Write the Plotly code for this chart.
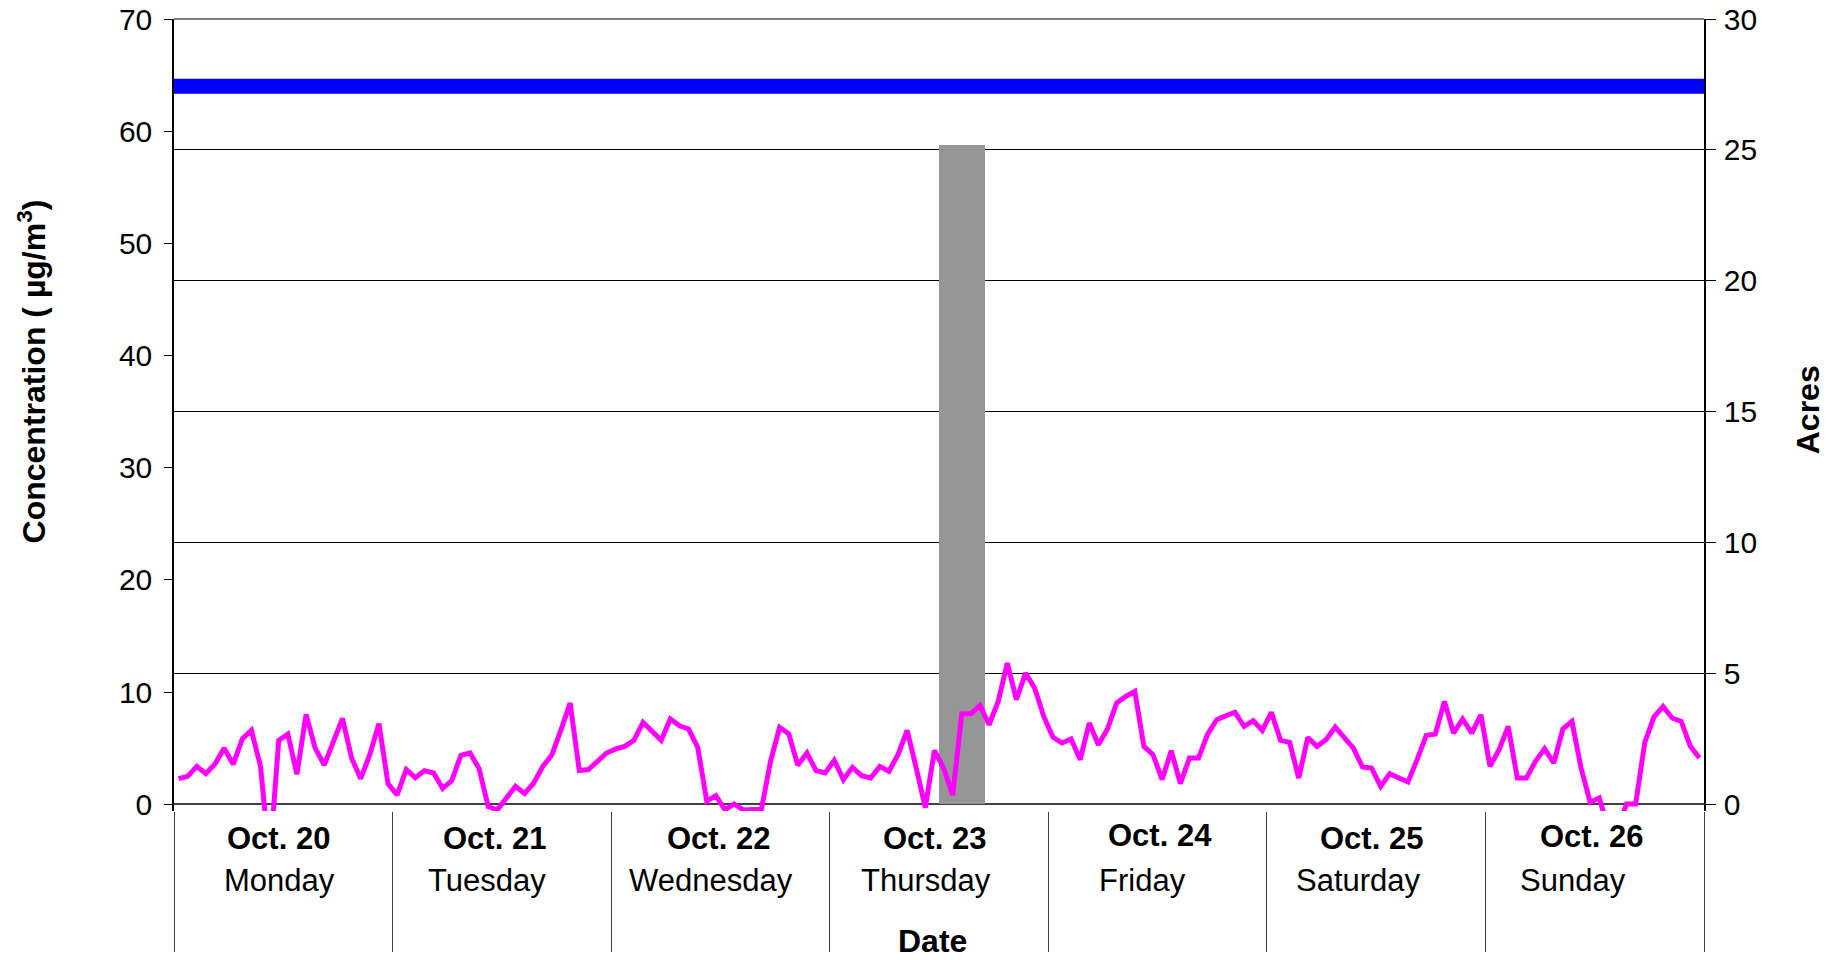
import plotly.graph_objects as go

# ---------------- data ----------------
dates = ["Oct. 20", "Oct. 21", "Oct. 22", "Oct. 23", "Oct. 24", "Oct. 25", "Oct. 26"]
weekdays = ["Monday", "Tuesday", "Wednesday", "Thursday", "Friday", "Saturday", "Sunday"]

# hourly PM concentration (µg/m3), one list per day
conc_oct20 = [2.28, 2.49, 3.38, 2.73, 3.59, 4.99, 3.56, 5.82, 6.59, 3.38, -5.0, 5.70,
              6.26, 2.67, 8.01, 5.01, 3.50, 5.58, 7.66, 4.12, 2.28, 4.42, 7.18, 1.84]
conc_oct21 = [0.83, 3.09, 2.37, 3.00, 2.79, 1.42, 2.11, 4.36, 4.57, 3.18, -0.2, -0.5,
              0.50, 1.60, 0.95, 1.90, 3.38, 4.42, 6.65, 9.02, 3.00, 3.09, 3.83, 4.57]
conc_oct22 = [4.93, 5.16, 5.70, 7.30, 6.50, 5.70, 7.60, 7.00, 6.71, 5.10, 0.27, 0.77,
              -0.5, 0.03, -0.5, -0.5, -0.45, 3.83, 6.85, 6.29, 3.47, 4.57, 3.00, 2.79]
conc_oct23 = [3.92, 2.20, 3.29, 2.55, 2.34, 3.38, 2.94, 4.42, 6.59, 3.23, -0.3, 4.81,
              3.23, 0.80, 8.07, 8.07, 8.81, 7.09, 9.17, 12.58, 9.32, 11.69, 10.36, 7.83]
conc_oct24 = [5.99, 5.46, 5.82, 3.98, 7.24, 5.31, 6.71, 9.02, 9.61, 10.06, 5.16, 4.42,
              2.20, 4.78, 1.84, 4.12, 4.12, 6.26, 7.54, 7.89, 8.19, 6.94, 7.45, 6.59]
conc_oct25 = [8.19, 5.70, 5.52, 2.34, 5.96, 5.16, 5.76, 6.88, 5.91, 5.01, 3.32, 3.23,
              1.60, 2.73, 2.34, 1.99, 3.98, 6.14, 6.26, 9.17, 6.35, 7.60, 6.35, 7.98]
conc_oct26 = [3.38, 4.87, 6.94, 2.34, 2.34, 3.83, 4.96, 3.68, 6.71, 7.39, 3.23, 0.18,
              0.56, -2.2, -2.2, 0.03, 0.03, 5.52, 7.77, 8.72, 7.69, 7.39, 5.16, 4.12]

standard_level = 64          # µg/m3 reference level
fire_hour = [86.5]           # hour (from Oct. 20 00:00) of the burn
fire_acres = [25.2]          # acres burned

conc_ticks = [0, 10, 20, 30, 40, 50, 60, 70]
acre_ticks = [0, 5, 10, 15, 20, 25, 30]

# ---------------- styling (label nudges, px) ----------------
date_dx = [-5, -7, -2, -5, 2, -5, -3]
date_dy = [-27.5, -27.5, -27, -27.2, -24.7, -27.6, -25.3]
wday_dx = [-4, -15, -9.6, -13.2, -14.7, -18, -21.5]
WDAY_DY = -69.6

# ---------------- build ----------------
conc = conc_oct20 + conc_oct21 + conc_oct22 + conc_oct23 + conc_oct24 + conc_oct25 + conc_oct26
hours_per_day = 24
n_hours = hours_per_day * len(dates)
x_hours = [h + 0.5 for h in range(len(conc))]
day_bounds = [d * hours_per_day for d in range(len(dates) + 1)]
day_centers = [d * hours_per_day + hours_per_day / 2 for d in range(len(dates))]

FONT = "Liberation Sans, Arial, sans-serif"
C_MAX, A_MAX = 70, 30
C_LOW = -0.6
A_LOW = C_LOW * A_MAX / C_MAX

fig = go.Figure()
fig.add_trace(go.Bar(x=fire_hour, y=fire_acres, width=[5.1], yaxis="y",
                     marker=dict(color="#969696", line=dict(width=0)),
                     hoverinfo="skip"))
fig.add_trace(go.Scatter(x=[0, n_hours], y=[standard_level, standard_level], yaxis="y2",
                         mode="lines", line=dict(color="#0000FF", width=15),
                         hoverinfo="skip"))
fig.add_trace(go.Scatter(x=x_hours, y=conc, yaxis="y2", mode="lines",
                         line=dict(color="#FF00FF", width=5),
                         hoverinfo="skip"))

annotations = []
for xc, d, w, ddx, ddy, wdx in zip(day_centers, dates, weekdays, date_dx, date_dy, wday_dx):
    annotations.append(dict(x=xc, y=0, xref="x", yref="paper", text="<b>%s</b>" % d,
                            showarrow=False, xanchor="center", yanchor="middle",
                            yshift=ddy, xshift=ddx, font=dict(size=31, family=FONT, color="black")))
    annotations.append(dict(x=xc, y=0, xref="x", yref="paper", text=w,
                            showarrow=False, xanchor="center", yanchor="middle",
                            yshift=WDAY_DY, xshift=wdx, font=dict(size=31, family=FONT, color="black")))
annotations.append(dict(x=0.496, y=0, xref="paper", yref="paper", text="<b>Date</b>",
                        showarrow=False, xanchor="center", yanchor="middle", yshift=-130,
                        font=dict(size=32, family=FONT, color="black")))
annotations.append(dict(x=0, y=0.555, xref="paper", yref="paper",
                        text="<b>Concentration ( µg/m<sup>3</sup>)</b>", textangle=-90,
                        showarrow=False, xanchor="center", yanchor="middle", xshift=-142,
                        font=dict(size=32, family=FONT, color="black")))
annotations.append(dict(x=1, y=0.506, xref="paper", yref="paper", text="<b>Acres</b>",
                        textangle=-90, showarrow=False, xanchor="center", yanchor="middle",
                        xshift=104, font=dict(size=32, family=FONT, color="black")))

fig.update_layout(
    width=1835, height=952, autosize=False,
    margin=dict(l=166, r=139, t=11, b=149, pad=0),
    paper_bgcolor="white", plot_bgcolor="white",
    showlegend=False, hovermode=False,
    font=dict(family=FONT, color="black"),
    annotations=annotations,
    shapes=[dict(type="line", xref="paper", yref="paper", x0=0, x1=1, y0=1, y1=1,
                 line=dict(color="black", width=1.2), layer="below")],
    xaxis=dict(range=[0, n_hours], tickmode="array", tickvals=day_bounds,
               ticks="outside", ticklen=140, tickwidth=1, tickcolor="#404040",
               showticklabels=False, showgrid=False, zeroline=False, showline=False,
               automargin=False),
    yaxis=dict(side="right", range=[A_LOW, A_MAX], tickmode="array", tickvals=acre_ticks,
               ticks="outside", ticklen=10, tickwidth=1, tickcolor="black",
               showline=True, linecolor="black", linewidth=1.5,
               showgrid=True, gridcolor="black", gridwidth=1, zeroline=False,
               tickfont=dict(size=30, family=FONT, color="black"), ticklabelstandoff=2,
               ticklabeloverflow="allow", automargin=False),
    yaxis2=dict(side="left", overlaying="y", range=[C_LOW, C_MAX], tickmode="array",
                tickvals=conc_ticks, ticks="outside", ticklen=8, tickwidth=1, tickcolor="black",
                showline=True, linecolor="black", linewidth=1.5, showgrid=False,
                zeroline=True, zerolinecolor="#404040", zerolinewidth=1.5,
                tickfont=dict(size=30, family=FONT, color="black"), ticklabelstandoff=6,
                ticklabeloverflow="allow", automargin=False),
    bargap=0,
)

fig.write_html("out.html", config={"displayModeBar": False})
